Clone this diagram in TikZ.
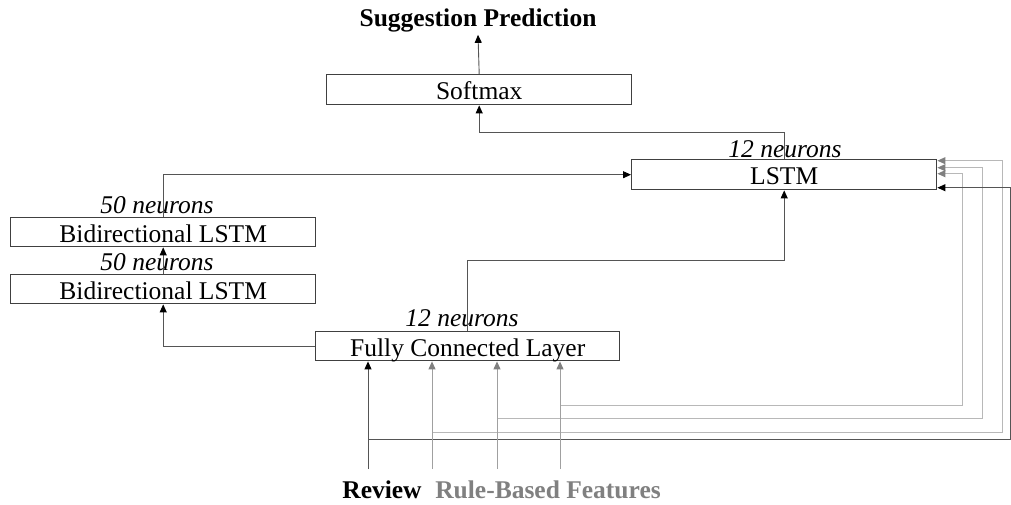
\documentclass[tikz,border=0pt]{standalone}
\usepackage{fontspec}
\setmainfont{Liberation Serif}
\usetikzlibrary{arrows.meta}
\definecolor{boxc}{HTML}{404040}
\definecolor{linec}{HTML}{555555}
\definecolor{grayl}{HTML}{B8B8B8}
\definecolor{grayv}{HTML}{A0A0A0}
\definecolor{graytip}{HTML}{808080}
\definecolor{graytext}{HTML}{808080}
\begin{document}
\begin{tikzpicture}[x=1pt,y={(0pt,-1pt)},
  font=\fontsize{25.5}{30}\selectfont,
  box/.style={draw=boxc,line width=1.4pt,inner sep=0pt,minimum height=29pt,
    text height=20pt,text depth=0pt,anchor=north west},
  lab/.style={inner sep=0pt,anchor=base},
  conn/.style={draw=linec,line width=0.9pt},
  gconn/.style={draw=grayl,line width=1pt},
  gvert/.style={draw=grayv,line width=1pt},
  arr/.style={-{Triangle[length=8pt,width=7pt,color=black]}},
  garr/.style={-{Triangle[length=8pt,width=7pt,color=graytip]}}]
\useasboundingbox (0,0) rectangle (1011,504);

% boxes
\node[box,minimum width=305pt,minimum height=30pt] (sm) at (326,74) {Softmax};
\node[box,minimum width=305pt,minimum height=30pt] (lstm) at (631,159) {LSTM};
\node[box,minimum width=305pt] (bl1) at (10,217) {Bidirectional LSTM};
\node[box,minimum width=305pt] (bl2) at (10,274) {Bidirectional LSTM};
\node[box,minimum width=304pt] (fc) at (315,331) {Fully Connected Layer};

% labels
\node[lab,inner sep=3pt] (pred) at (478,26) {\bfseries Suggestion Prediction};
\node[lab] (n1) at (785,157) {\itshape 12 neurons};
\node[lab] (n2) at (157,213) {\itshape 50 neurons};
\node[lab] (n3) at (157,270) {\itshape 50 neurons};
\node[lab] (n4) at (462,326) {\itshape 12 neurons};
\node[lab] (rev) at (382,498) {\bfseries Review};
\node[lab,text=graytext] (rbf) at (548,498) {\bfseries Rule-Based Features};

% main connectors
\draw[conn,arr] (sm.north) -- (pred.south);
\draw[conn,arr] (lstm.north) -- ++(0,-27) -| (sm.south);
\draw[conn,arr] (bl1.north) |- (lstm.west);
\draw[conn,arr] (bl2.north) -- (bl1.south);
\draw[conn,arr] (fc.west) -| (bl2.south);
\draw[conn,arr] (fc.north) -- ++(0,-71) -| (lstm.south);

% inputs
\coordinate (in0) at (368,469);
\coordinate (in1) at (432,469);
\coordinate (in2) at (497,469);
\coordinate (in3) at (560,469);
\coordinate (k0) at (1010,439);
\coordinate (k1) at (1002,432);
\coordinate (k2) at (982,418);
\coordinate (k3) at (962,405);

\draw[gconn,garr] (in3 |- k3) -- (k3) |- ([yshift=1pt]lstm.east);
\draw[gconn,garr] (in2 |- k2) -- (k2) |- ([yshift=7pt]lstm.east);
\draw[gconn,garr] (in1 |- k1) -- (k1) |- ([yshift=14pt]lstm.east);
\draw[conn,arr] (in0 |- k0) -- (k0) |- ([yshift=-13pt]lstm.east);

\draw[conn,arr] (in0) -- (in0 |- fc.south);
\draw[gvert,garr] (in1) -- (in1 |- fc.south);
\draw[gvert,garr] (in2) -- (in2 |- fc.south);
\draw[gvert,garr] (in3) -- (in3 |- fc.south);
\end{tikzpicture}
\end{document}
